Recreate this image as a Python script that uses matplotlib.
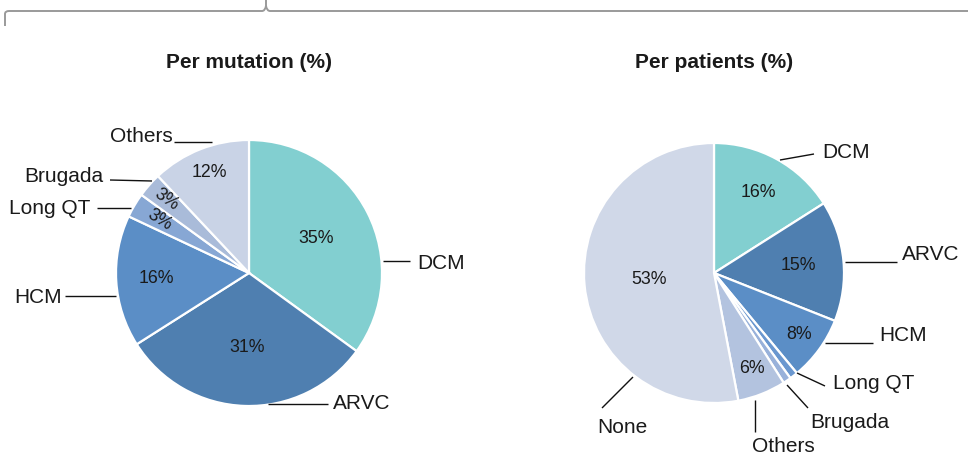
import numpy as np
import matplotlib
matplotlib.use("Agg")
import matplotlib.pyplot as plt
from matplotlib.path import Path
from matplotlib.patches import PathPatch

plt.rcParams['font.family'] = ['Liberation Sans', 'DejaVu Sans']

# ---- data ----
mut_labels = ["DCM", "ARVC", "HCM", "Long QT", "Brugada", "Others"]
mut_values = [35, 31, 16, 3, 3, 12]
pat_labels = ["DCM", "ARVC", "HCM", "Long QT", "Brugada", "Others", "None"]
pat_values = [16, 15, 8, 1, 1, 6, 53]
mut_pct_text = ["35%", "31%", "16%", "3%", "3%", "12%"]
pat_pct_text = ["16%", "15%", "8%", "", "", "6%", "53%"]
titles = ["Per mutation (%)", "Per patients (%)"]

# ---- style ----
mut_colors = ["#82cfd0", "#4f7fb0", "#5b8ec6", "#87a7d4", "#a9bbd9", "#c9d3e6"]
pat_colors = ["#82cfd0", "#4f7fb0", "#5b8ec6", "#6a97cf", "#98b1da", "#b3c3df", "#d0d8e8"]

W, H = 968, 459
fig = plt.figure(figsize=(W / 100, H / 100), dpi=100)
ax = fig.add_axes([0, 0, 1, 1])
ax.set_xlim(0, W)
ax.set_ylim(0, H)
ax.set_aspect('equal')
ax.axis('off')

def Y(y):
    return H - y

txtc = "#1a1a1a"
LAB_FS = 15
PCT_FS = 12.8

def draw_pie(values, colors, pct_text, cx, cy, r, pct_dist, pct_rot):
    wedges, _ = ax.pie(values, colors=colors, startangle=90, counterclock=False,
                       center=(cx, Y(cy)), radius=r, frame=True,
                       wedgeprops=dict(edgecolor='white', linewidth=1.6))
    ax.set_xlim(0, W)
    ax.set_ylim(0, H)
    ax.axis('off')
    for w, t, d, rot in zip(wedges, pct_text, pct_dist, pct_rot):
        if not t:
            continue
        th = np.deg2rad((w.theta1 + w.theta2) / 2)
        x = cx + r * d * np.cos(th)
        y = Y(cy) + r * d * np.sin(th)
        ax.text(x, y, t, ha='center', va='center', fontsize=PCT_FS, color=txtc, rotation=rot,
                rotation_mode='anchor')
    return wedges

draw_pie(mut_values, mut_colors, mut_pct_text, 249, 273, 133,
         [0.57, 0.56, 0.70, 0.78, 0.83, 0.81], [0, 0, 0, -32, -35, 0])
draw_pie(pat_values, pat_colors, pat_pct_text, 714, 273, 130,
         [0.71, 0.65, 0.81, 0, 0, 0.79, 0.50], [0, 0, 0, 0, 0, 0, 0])

# titles
ax.text(249, Y(62), titles[0], ha='center', va='center', fontsize=15, fontweight='bold', color=txtc)
ax.text(714, Y(62), titles[1], ha='center', va='center', fontsize=15, fontweight='bold', color=txtc)

# external labels (x, baseline y, ha) and leader lines
mut_label_pos = {
    "Others": (173, 142, 'right'),
    "Brugada": (103, 182, 'right'),
    "Long QT": (90, 214, 'right'),
    "HCM": (62, 303, 'right'),
    "DCM": (417, 269, 'left'),
    "ARVC": (333, 409, 'left'),
}
mut_lines = {
    "Others": [(174, 142), (212, 142)],
    "Brugada": [(110, 180), (152, 181)],
    "Long QT": [(97, 208), (131, 208)],
    "HCM": [(65, 296), (116, 296)],
    "DCM": [(383, 261), (410, 261)],
    "ARVC": [(268, 404), (328, 404)],
}
pat_label_pos = {
    "DCM": (822, 158, 'left'),
    "ARVC": (902, 260, 'left'),
    "HCM": (879, 341, 'left'),
    "Long QT": (833, 389, 'left'),
    "Brugada": (810, 428, 'left'),
    "Others": (752, 452, 'left'),
    "None": (597, 433, 'left'),
}
pat_lines = {
    "DCM": [(780, 160), (814, 154)],
    "ARVC": [(845, 262), (897, 262)],
    "HCM": [(825, 343), (873, 343)],
    "Long QT": [(797, 373), (825, 386)],
    "Brugada": [(787, 385), (808, 408)],
    "Others": [(755, 400), (755, 432)],
    "None": [(633, 377), (602, 408)],
}

for labels, pos, lines in [(mut_labels, mut_label_pos, mut_lines), (pat_labels, pat_label_pos, pat_lines)]:
    for lab in labels:
        x, y, ha = pos[lab]
        ax.text(x, Y(y), lab, ha=ha, va='baseline', fontsize=LAB_FS, color=txtc)
        (x0, y0), (x1, y1) = lines[lab]
        ax.plot([x0, x1], [Y(y0), Y(y1)], color='#111111', lw=1.0, solid_capstyle='butt')

# top brace
verts = [(5, Y(26)), (5, Y(14)), (5, Y(11)), (9, Y(11)),
         (262, Y(11)), (265, Y(11)), (266, Y(6)), (266, Y(0)),
         (266, Y(6)), (267, Y(11)), (270, Y(11)), (W + 5, Y(11))]
codes = [Path.MOVETO, Path.LINETO, Path.CURVE3, Path.CURVE3,
         Path.LINETO, Path.CURVE3, Path.CURVE3, Path.LINETO,
         Path.MOVETO, Path.CURVE3, Path.CURVE3, Path.LINETO]
ax.add_patch(PathPatch(Path(verts, codes), fill=False, edgecolor='#9a9a9a', lw=1.4))

fig.savefig("out.png", dpi=100, facecolor='white')
